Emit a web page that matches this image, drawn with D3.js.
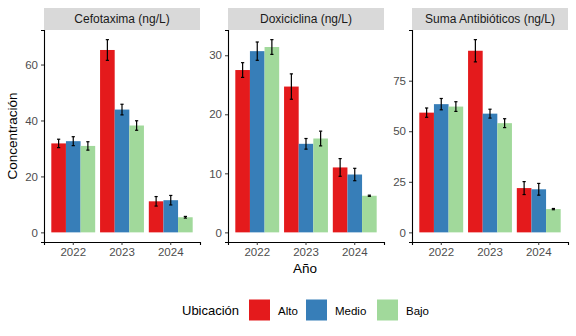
<!DOCTYPE html>
<html>
<head>
<meta charset="utf-8">
<script src="https://cdn.jsdelivr.net/npm/d3@7"></script>
<style>
  body { margin: 0; background: #fff; }
  svg { font-family: "Liberation Sans", Arial, sans-serif; }
</style>
</head>
<body>
<div id="chart"></div>
<script>
// Data
const years = ['2022', '2023', '2024'];
const ubicaciones = ['Alto', 'Medio', 'Bajo'];
const colores = ['#E41A1C', '#377EB8', '#A1D99B'];
const paneles = ['Cefotaxima (ng/L)', 'Doxiciclina (ng/L)', 'Suma Antibióticos (ng/L)'];
const yTicks = [[0, 20, 40, 60], [0, 10, 20, 30], [0, 25, 50, 75]];

// mean per year (rows) and ubicacion (cols)
const cefotaxima = [[31.8, 32.6, 30.9], [65.2, 43.9, 38.2], [11.1, 11.5, 5.4]];
const cefotaximaSE = [[1.5, 1.6, 1.5], [3.7, 1.9, 1.7], [1.7, 1.7, 0.3]];
const doxiciclina = [[27.5, 30.7, 31.4], [24.7, 15.0, 15.9], [11.0, 9.8, 6.2]];
const doxiciclinaSE = [[1.25, 1.55, 1.25], [2.15, 0.9, 1.25], [1.5, 1.05, 0.1]];
const suma = [[59.2, 63.4, 62.2], [89.8, 58.7, 54.0], [21.9, 21.3, 11.5]];
const sumaSE = [[2.3, 2.8, 2.4], [5.5, 2.2, 2.2], [3.2, 2.9, 0.3]];

const valores = [cefotaxima, doxiciclina, suma];
const errores = [cefotaximaSE, doxiciclinaSE, sumaSE];

const W = 576, H = 336;
const panelLeft = [44, 228, 412];
const panelW = 156;
const plotTop = 30, plotBottom = 242;
const stripTop = 8;

const svg = d3.select('#chart').append('svg')
  .attr('width', W).attr('height', H);

const color = d3.scaleOrdinal().domain(ubicaciones).range(colores);

paneles.forEach((name, p) => {
  const g = svg.append('g').attr('transform', `translate(${panelLeft[p]},0)`);

  // strip
  g.append('rect')
    .attr('x', 0).attr('y', stripTop)
    .attr('width', panelW).attr('height', plotTop - stripTop)
    .attr('fill', '#D9D9D9');
  g.append('text')
    .attr('x', panelW / 2).attr('y', (stripTop + plotTop) / 2 + 4)
    .attr('text-anchor', 'middle')
    .attr('font-size', '12px')
    .attr('fill', '#1A1A1A')
    .text(name);

  const rows = [];
  years.forEach((yr, i) => {
    ubicaciones.forEach((u, j) => {
      rows.push({ year: yr, ub: u, v: valores[p][i][j], e: errores[p][i][j] });
    });
  });

  const maxV = d3.max(rows, d => d.v + d.e);
  const y = d3.scaleLinear()
    .domain([-0.05 * maxV, 1.05 * maxV])
    .range([plotBottom, plotTop]);

  const x = d3.scaleBand()
    .domain(years)
    .range([0, panelW])
    .paddingInner(0.1)
    .paddingOuter(0.15);

  const xs = d3.scaleBand()
    .domain(ubicaciones)
    .range([0, x.bandwidth()]);

  // bars
  g.selectAll('rect.bar')
    .data(rows)
    .enter()
    .append('rect')
    .attr('class', 'bar')
    .attr('x', d => x(d.year) + xs(d.ub))
    .attr('y', d => y(d.v))
    .attr('width', xs.bandwidth())
    .attr('height', d => y(0) - y(d.v))
    .attr('fill', d => color(d.ub));

  // error bars
  const eb = g.selectAll('g.err')
    .data(rows)
    .enter()
    .append('g')
    .attr('class', 'err')
    .attr('stroke', '#000')
    .attr('stroke-width', 1.2);
  const cx = d => x(d.year) + xs(d.ub) + xs.bandwidth() / 2;
  eb.append('line')
    .attr('x1', cx).attr('x2', cx)
    .attr('y1', d => y(d.v + d.e)).attr('y2', d => y(d.v - d.e));
  eb.append('line')
    .attr('x1', d => cx(d) - 1.6).attr('x2', d => cx(d) + 1.6)
    .attr('y1', d => y(d.v + d.e)).attr('y2', d => y(d.v + d.e));
  eb.append('line')
    .attr('x1', d => cx(d) - 1.6).attr('x2', d => cx(d) + 1.6)
    .attr('y1', d => y(d.v - d.e)).attr('y2', d => y(d.v - d.e));

  // axes
  const ax = g.append('g')
    .attr('transform', `translate(0,${plotBottom})`)
    .call(d3.axisBottom(x).tickSizeOuter(0).tickSize(3).tickPadding(3));
  const ay = g.append('g')
    .call(d3.axisLeft(y).tickValues(yTicks[p]).tickSizeOuter(0).tickSize(3).tickPadding(3));

  [ax, ay].forEach(a => {
    a.select('.domain').attr('stroke', '#000').attr('stroke-width', 1.1);
    a.selectAll('.tick line').attr('stroke', '#333');
    a.selectAll('.tick text')
      .attr('fill', '#4D4D4D')
      .attr('font-size', '11.5px')
      .attr('font-family', '"Liberation Sans", Arial, sans-serif');
  });
});

// axis titles
svg.append('text')
  .attr('x', 305).attr('y', 273)
  .attr('text-anchor', 'middle')
  .attr('font-size', '13.5px')
  .attr('fill', '#000')
  .text('Año');

svg.append('text')
  .attr('transform', 'translate(17,136) rotate(-90)')
  .attr('text-anchor', 'middle')
  .attr('font-size', '13.5px')
  .attr('fill', '#000')
  .text('Concentración');

// legend
const leg = svg.append('g').attr('transform', 'translate(0,310)');
leg.append('text')
  .attr('x', 182).attr('y', 4.5)
  .attr('font-size', '13px')
  .attr('fill', '#000')
  .text('Ubicación');
const legX = [249, 306, 377];
ubicaciones.forEach((u, i) => {
  leg.append('rect')
    .attr('x', legX[i]).attr('y', -10.5)
    .attr('width', 21).attr('height', 21)
    .attr('fill', color(u));
  leg.append('text')
    .attr('x', legX[i] + 29).attr('y', 4.5)
    .attr('font-size', '11.5px')
    .attr('fill', '#000')
    .text(u);
});
</script>
</body>
</html>
